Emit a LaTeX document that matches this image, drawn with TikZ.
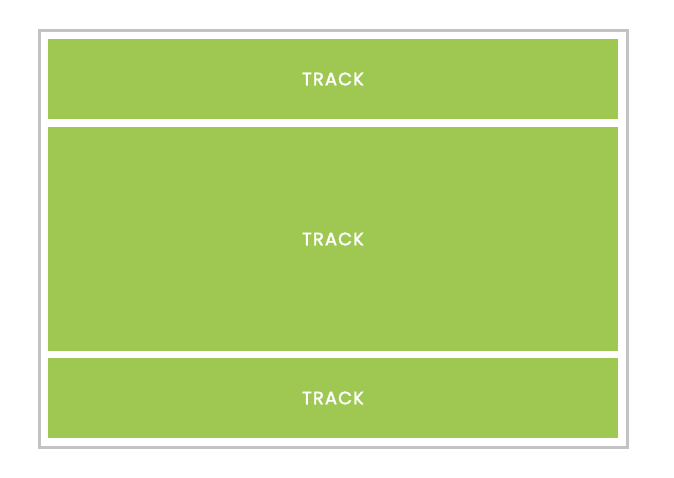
\documentclass[tikz,border=0pt]{standalone}
\usepackage{fontspec}
\setmainfont{Poppins}
\newfontfamily\trackfont[FakeBold=2,LetterSpace=6]{Poppins}
\definecolor{trackgreen}{HTML}{9EC852}
\definecolor{framegray}{HTML}{C3C3C3}
\begin{document}
\begin{tikzpicture}[x=1pt,y=-1pt,
  track/.style={fill=trackgreen,draw=none,text=white,inner sep=0pt,minimum width=570pt,
    font=\trackfont\fontsize{18}{21}\selectfont}]
\useasboundingbox (0,0) rectangle (674,478);
\draw[framegray,line width=2.6pt] (39.3,30.3) rectangle (627.3,447.3);
\node[track,minimum height=80pt] (t1) at (333,79) {TRACK};
\node[track,minimum height=224pt] (t2) at (333,239) {TRACK};
\node[track,minimum height=80pt] (t3) at (333,398) {TRACK};
\end{tikzpicture}
\end{document}
